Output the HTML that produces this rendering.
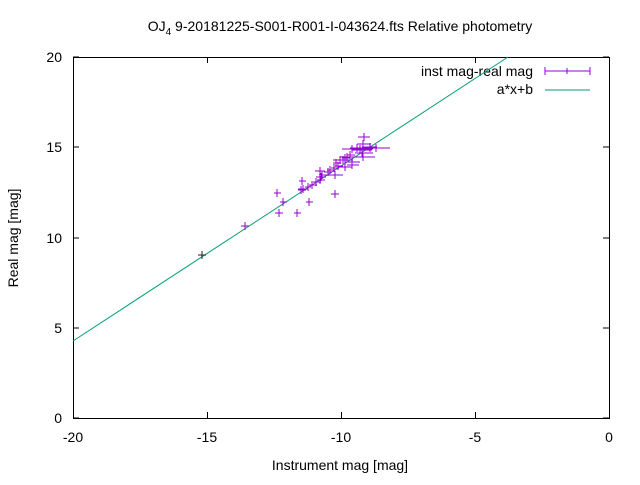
<!DOCTYPE html>
<html><head><style>body{margin:0;background:#fff}svg text{font-family:"Liberation Sans",sans-serif;font-size:14px;fill:#000}</style></head><body>
<svg width="640" height="480" xmlns="http://www.w3.org/2000/svg">
<rect width="640" height="480" fill="#fff"/>
<text x="340" y="31" text-anchor="middle">OJ<tspan font-size="10" dy="4">4</tspan><tspan dy="-4"> 9-20181225-S001-R001-I-043624.fts Relative photometry</tspan></text>
<rect x="73.5" y="57.5" width="536" height="361" fill="none" stroke="#000"/>
<g stroke="#000">
<path d="M73 418h6M609 418h-6M73 328h6M609 328h-6M73 238h6M609 238h-6M73 147h6M609 147h-6M73 57h6M609 57h-6"/>
<path d="M73.5 418v-6M73.5 57v6M207.5 418v-6M207.5 57v6M341.5 418v-6M341.5 57v6M475.5 418v-6M475.5 57v6M609.5 418v-6M609.5 57v6"/>
</g>
<g text-anchor="middle"><text x="73" y="442">-20</text><text x="207" y="442">-15</text><text x="341" y="442">-10</text><text x="475" y="442">-5</text><text x="609" y="442">0</text>
<text x="340" y="470">Instrument mag [mag]</text>
<text transform="translate(18,238) rotate(-90)">Real mag [mag]</text></g>
<g text-anchor="end"><text x="62" y="423">0</text><text x="62" y="333">5</text><text x="62" y="243">10</text><text x="62" y="152">15</text><text x="62" y="62">20</text></g>
<text x="533" y="76" text-anchor="end">inst mag-real mag</text>
<text x="533" y="94" text-anchor="end">a*x+b</text>
<path d="M545 71h45M545 67v8M590 67v8M567 68v6" stroke="#9400d3"/>
<path d="M545 90h45" stroke="#009e73"/>
<path d="M73 341L508 57" stroke="#009e73" fill="none"/>
<g stroke="#9400d3" fill="none">
<path d="M198 255h8M202 251v8" stroke="#222"/>
<path d="M241 226h8M245 222v8"/>
<path d="M274 193h7M277 189v8M280 202h7M283 198v8M275 213h8M279 209v8M294 213h7M297 209v8M306 202h7M309 198v8"/>
<path d="M298 189h10M303 185v8M299 181h7M302 177v8M298 190h8M301 186v8M305 187h6M308 183v8M309 185h8M312 181v8M313 182h8M316 178v8M317 180h8M320 176v8M316 177h10M321 173v8M319 175h8M322 171v8M315 171h10M320 167v8M324 172h8M328 168v8M327 170h8M330 166v8M331 168h8M334 164v8M335 166h8M338 162v8M333 163h8M336 159v8M337 160h8M340 156v8M342 158h8M345 154v8M347 155h8M350 151v8M331 194h8M335 190v8M338 167h14M345 163v8M333 160h20M343 156v8M340 157h15M347 153v8M341 160h8M345 156v8"/>
<path d="M342 149h20M352 145v8M348 149h25M360 145v8M355 148h30M370 144v8M350 157h25M363 153v8M357 144h14M363 140v8M358 137h12M364 133v8M352 150h20M360 146v8M355 153h18M362 149v8M345 162h15M352 158v8M328 175h15M335 171v8M362 147h15M370 143v8M350 148h18M357 144v8M364 148h26M376 144v8M347 165h12M352 161v8"/>
</g>
</svg>
</body></html>
